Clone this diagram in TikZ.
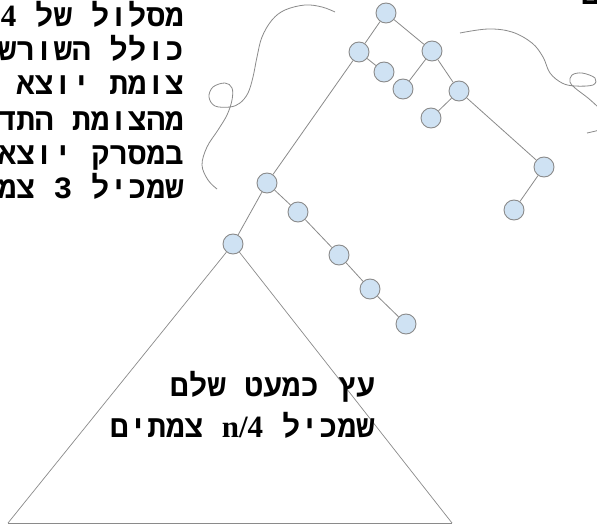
\documentclass[tikz,border=0pt]{standalone}
\usepackage{fontspec}
\newfontfamily\hmono[Script=Hebrew]{Liberation Mono}
\newfontfamily\lserif{Liberation Serif}
\TeXXeTstate=1
\definecolor{nodefill}{HTML}{CFE2F3}
\definecolor{nodeedge}{HTML}{8A8A8A}
\definecolor{edgegray}{HTML}{8A8A8A}
\newcommand{\latintext}[1]{{\lserif\bfseries #1}}
\begin{document}
\begin{tikzpicture}[x=1pt,y=-1pt,
  tnode/.style={circle,draw=nodeedge,fill=nodefill,line width=0.9pt,minimum size=20pt,inner sep=0pt},
  edge/.style={draw=edgegray,line width=0.8pt},
  curve/.style={draw=edgegray,line width=0.8pt},
  tri/.style={draw=edgegray,line width=0.7pt},
  heb/.style={font=\fontsize{31pt}{34pt}\selectfont\hmono\bfseries,inner sep=0pt,anchor=base east}]
\useasboundingbox (0,0) rectangle (597,527);
% tree nodes
\node[tnode] (r) at (386,13) {};
\node[tnode] (a) at (359,52) {};
\node[tnode] (b) at (384,72) {};
\node[tnode] (c) at (432,51) {};
\node[tnode] (d) at (403,89) {};
\node[tnode] (e) at (459,91) {};
\node[tnode] (f) at (431,118) {};
\node[tnode] (g) at (544,167) {};
\node[tnode] (h) at (514,210) {};
\node[tnode] (i) at (267,183) {};
\node[tnode] (j) at (298,212) {};
\node[tnode] (k) at (233,244) {};
\node[tnode] (l) at (339,255) {};
\node[tnode] (m) at (370,289) {};
\node[tnode] (n) at (406,324) {};
% edges
\draw[edge] (r) -- (a);
\draw[edge] (r) -- (c);
\draw[edge] (a) -- (b);
\draw[edge] (a) -- (i);
\draw[edge] (c) -- (d);
\draw[edge] (c) -- (e);
\draw[edge] (e) -- (f);
\draw[edge] (e) -- (g);
\draw[edge] (g) -- (h);
\draw[edge] (i) -- (j);
\draw[edge] (i) -- (k);
\draw[edge] (j) -- (l);
\draw[edge] (l) -- (m);
\draw[edge] (m) -- (n);
% triangle
\coordinate (tl) at (8,523);
\coordinate (tr) at (452,523);
\draw[tri] (k) -- (tl);
\draw[tri, line width=1pt] (tl) -- (tr);
\draw[tri] (tr) -- (k);
% wavy curves
\draw[curve] plot[smooth, tension=0.6] coordinates {(335,12) (322,7) (305,5) (285,10) (272,20) (262,37) (257,57) (253,77) (248,93) (240,103) (230,107) (215,106) (209,97) (213,87) (225,83) (232,88) (232,100) (227,115) (218,130) (207,147) (202,165) (208,180) (217,189)};
\draw[curve] plot[smooth, tension=0.6] coordinates {(460,33) (488,29) (512,32) (532,43) (543,57) (550,73) (562,83) (575,86) (593,85) (595,78) (582,73) (572,75) (570,82) (575,88) (588,98) (598,107) (612,120) (605,128) (587,133)};
% texts
\node[heb] (t1) at (184,27) {\beginR מסלול של \latintext{4}\endR};
\node[heb] (t2) at (184,61) {\beginR כולל השורש\endR};
\node[heb] (t3) at (184,95) {\beginR צומת יוצא\endR};
\node[heb] (t4) at (184,130) {\beginR מהצומת התד\endR};
\node[heb] (t5) at (184,164) {\beginR במסרק יוצא\endR};
\node[heb] (t6) at (184,198) {\beginR שמכיל 3 צמ\endR};
\node[heb] (u1) at (375,396) {\beginR עץ כמעט שלם\endR};
\node[heb] (u2) at (375,437) {\beginR שמכיל \beginL\latintext{n/4}\endL{} צמתים\endR};
\node[heb] (frag) at (600,5) {\beginR ם\endR};
\end{tikzpicture}
\end{document}
